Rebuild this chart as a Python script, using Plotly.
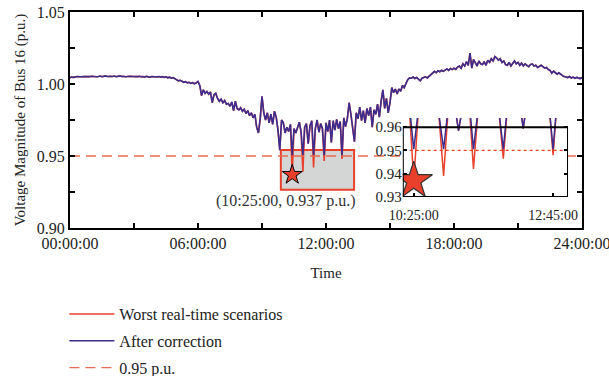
import numpy as np
import plotly.graph_objects as go

# ---- data (5-minute resolution, minutes from 00:00) ----
after_correction = [
    # 00
    1.0044,1.0048,1.0046,1.0050,1.0052,1.0050,1.0053,1.0051,1.0052,1.0050,1.0053,1.0051,
    # 01
    1.0054,1.0051,1.0053,1.0050,1.0052,1.0055,1.0051,1.0053,1.0056,1.0052,1.0050,1.0053,
    # 02
    1.0052,1.0055,1.0051,1.0053,1.0056,1.0052,1.0054,1.0050,1.0053,1.0051,1.0054,1.0052,
    # 03
    1.0050,1.0053,1.0051,1.0054,1.0050,1.0052,1.0048,1.0053,1.0051,1.0047,1.0052,1.0050,
    # 04
    1.0053,1.0049,1.0052,1.0047,1.0051,1.0046,1.0050,1.0043,1.0047,1.0040,1.0044,1.0036,
    # 05
    1.0030,1.0022,1.0026,1.0018,1.0012,1.0016,1.0008,1.0012,1.0004,1.0010,1.0002,1.0008,
    # 06
    1.0018,0.9990,0.9920,0.9960,0.9935,0.9948,0.9930,0.9945,0.9870,0.9925,0.9935,0.9900,
    # 07
    0.9880,0.9895,0.9870,0.9885,0.9860,0.9865,0.9845,0.9875,0.9815,0.9880,0.9830,0.9820,
    # 08
    0.9835,0.9810,0.9825,0.9795,0.9815,0.9780,0.9800,0.9765,0.9790,0.9700,0.9660,0.9760,
    # 09
    0.9915,0.9800,0.9750,0.9800,0.9730,0.9790,0.9720,0.9810,0.9770,0.9680,0.9540,0.9750,
    # 10
    0.9730,0.9660,0.9700,0.9670,0.9720,0.9505,0.9690,0.9660,0.9700,0.9735,0.9665,0.9505,
    # 11
    0.9700,0.9725,0.9585,0.9710,0.9745,0.9505,0.9690,0.9750,0.9665,0.9725,0.9690,0.9505,
    # 12
    0.9730,0.9670,0.9750,0.9595,0.9745,0.9680,0.9755,0.9690,0.9740,0.9505,0.9765,0.9705,
    # 13
    0.9760,0.9870,0.9790,0.9700,0.9600,0.9800,0.9760,0.9840,0.9745,0.9815,0.9730,0.9830,
    # 14
    0.9780,0.9840,0.9700,0.9820,0.9790,0.9860,0.9770,0.9880,0.9960,0.9830,0.9900,0.9800,
    # 15
    0.9870,0.9975,0.9940,0.9965,0.9930,0.9965,0.9950,0.9990,0.9975,1.0005,1.0030,1.0042,
    # 16
    1.0040,1.0048,1.0038,1.0045,1.0030,1.0022,1.0040,1.0045,1.0050,1.0042,1.0055,1.0062,
    # 17
    1.0080,1.0088,1.0078,1.0092,1.0085,1.0095,1.0088,1.0100,1.0105,1.0095,1.0108,1.0100,
    # 18
    1.0110,1.0102,1.0118,1.0125,1.0110,1.0140,1.0125,1.0155,1.0130,1.0215,1.0110,1.0170,
    # 19
    1.0150,1.0125,1.0160,1.0140,1.0135,1.0155,1.0130,1.0165,1.0150,1.0175,1.0160,1.0190,
    # 20
    1.0180,1.0165,1.0175,1.0150,1.0160,1.0135,1.0130,1.0150,1.0125,1.0145,1.0160,1.0140,
    # 21
    1.0150,1.0130,1.0145,1.0125,1.0140,1.0130,1.0120,1.0135,1.0140,1.0125,1.0130,1.0115,
    # 22
    1.0125,1.0130,1.0120,1.0110,1.0115,1.0100,1.0095,1.0075,1.0090,1.0082,1.0068,1.0078,
    # 23
    1.0065,1.0058,1.0052,1.0050,1.0045,1.0052,1.0042,1.0048,1.0040,1.0046,1.0043,1.0038,
    # 24
    1.0045,
]
minutes = list(range(0, 1441, 5))

# worst real-time scenario: dips below 0.95 before correction
worst_dip_times = [625, 655, 685, 715, 765]     # 10:25, 10:55, 11:25, 11:55, 12:45
worst_dip_values = [0.937, 0.939, 0.942, 0.9465, 0.948]
worst = list(after_correction)
for t, v in zip(worst_dip_times, worst_dip_values):
    worst[minutes.index(t)] = v

threshold = 0.95
worst_point_time = 625
worst_point_value = 0.937

main_ticks = [0, 360, 720, 1080, 1440]
main_ticktext = ["00:00:00", "06:00:00", "12:00:00", "18:00:00", "24:00:00"]
minor_x = [180, 540, 900, 1260]
inset_ticks = [625, 765]
inset_ticktext = ["10:25:00", "12:45:00"]

RED = "#e8402a"
BLUE = "#3b2d8f"
DASH_RED = "#ec6a52"
FONT = "Liberation Serif"

fig = go.Figure()

# main traces
fig.add_trace(go.Scatter(x=minutes, y=worst, mode="lines", name="Worst real-time scenarios",
                         legendgroup="a", line=dict(color=RED, width=1.6)))
fig.add_trace(go.Scatter(x=minutes, y=after_correction, mode="lines", name="After correction",
                         legendgroup="b", line=dict(color=BLUE, width=1.6)))
fig.add_trace(go.Scatter(x=[0, 1440], y=[threshold, threshold], mode="lines", name="0.95 p.u.",
                         legendgroup="c", line=dict(color=DASH_RED, width=1.3, dash="10px,6px")))
fig.add_trace(go.Scatter(x=[worst_point_time], y=[worst_point_value], mode="markers", showlegend=False,
                         marker=dict(symbol="star", size=15, color=RED,
                                     line=dict(color="black", width=1))))

# inset traces
fig.add_trace(go.Scatter(x=minutes, y=worst, mode="lines", showlegend=False,
                         line=dict(color=RED, width=1.5), xaxis="x2", yaxis="y2"))
fig.add_trace(go.Scatter(x=minutes, y=after_correction, mode="lines", showlegend=False,
                         line=dict(color=BLUE, width=1.5), xaxis="x2", yaxis="y2"))
fig.add_trace(go.Scatter(x=[0, 1440], y=[threshold, threshold], mode="lines", showlegend=False,
                         line=dict(color=RED, width=1.3, dash="dot"), xaxis="x2", yaxis="y2"))
fig.add_trace(go.Scatter(x=[worst_point_time], y=[worst_point_value], mode="markers", showlegend=False,
                         marker=dict(symbol="star", size=28, color=RED,
                                     line=dict(color="#333333", width=1.2)),
                         xaxis="x2", yaxis="y2"))

# highlight box in main
fig.add_shape(type="rect", xref="x", yref="y", x0=593, x1=799, y0=0.9265, y1=0.9542,
              fillcolor="#d4d6d6", line=dict(color=RED, width=2), layer="below")
# inset frame
fig.add_shape(type="rect", xref="x2", yref="y2", x0=614, x1=780, y0=0.93, y1=0.96,
              line=dict(color="black", width=2), layer="above")

fig.add_annotation(x=worst_point_time - 18, y=0.9265, xref="x", yref="y", yanchor="top",
                   text="(10:25:00, 0.937 p.u.)", showarrow=False,
                   font=dict(family=FONT, size=16, color="#333333"))

axis_common = dict(showline=True, linecolor="black", linewidth=2, mirror="ticks",
                   ticks="inside", ticklen=5, tickwidth=1.5, tickcolor="black",
                   showgrid=False, zeroline=False, ticklabeloverflow="allow",
                   tickfont=dict(family=FONT, size=16, color="#222222"))

fig.update_layout(
    width=609, height=376,
    margin=dict(l=70, r=27, t=12, b=148, autoexpand=False),
    plot_bgcolor="white", paper_bgcolor="white",
    xaxis=dict(range=[0, 1440], tickmode="array", tickvals=main_ticks, ticktext=main_ticktext,
               minor=dict(tickmode="array", tickvals=minor_x, ticks="inside", ticklen=5,
                          tickwidth=1.5, tickcolor="black"),
               title=dict(text="Time", font=dict(family=FONT, size=15, color="#222222"), standoff=16),
               **axis_common),
    yaxis=dict(range=[0.90, 1.05], tickmode="array", tickvals=[0.90, 0.95, 1.00, 1.05],
               ticktext=["0.90", "0.95", "1.00", "1.05"],
               minor=dict(tickmode="array", tickvals=[0.925, 0.975, 1.025], ticks="inside",
                          ticklen=5, tickwidth=1.5, tickcolor="black"),
               title=dict(text="Voltage Magnitude of Bus 16 (p.u.)",
                          font=dict(family=FONT, size=15, color="#222222"), standoff=8),
               **axis_common),
    xaxis2=dict(domain=[0.650, 0.9727], anchor="y2", range=[614, 780],
                tickmode="array", tickvals=inset_ticks, ticktext=inset_ticktext,
                showline=False, ticks="inside", ticklen=4, tickwidth=1.5, tickcolor="black",
                showgrid=False, zeroline=False, ticklabelstandoff=8,
                tickfont=dict(family=FONT, size=14, color="#222222")),
    yaxis2=dict(domain=[0.1435, 0.509], anchor="x2", range=[0.93, 0.9639],
                tickmode="array", tickvals=[0.93, 0.94, 0.95, 0.96],
                ticktext=["0.93", "0.94", "0.95", "0.96"],
                showline=False, mirror="ticks", ticks="inside", ticklen=4, tickwidth=1.5,
                tickcolor="black", showgrid=False, zeroline=False,
                tickfont=dict(family=FONT, size=15, color="#222222")),
    legend=dict(x=-0.011, y=-0.32, xanchor="left", yanchor="top", bgcolor="rgba(0,0,0,0)",
                font=dict(family=FONT, size=16, color="#222222"), itemwidth=45,
                tracegroupgap=3),
    showlegend=True,
)

fig.write_html("out.html")
